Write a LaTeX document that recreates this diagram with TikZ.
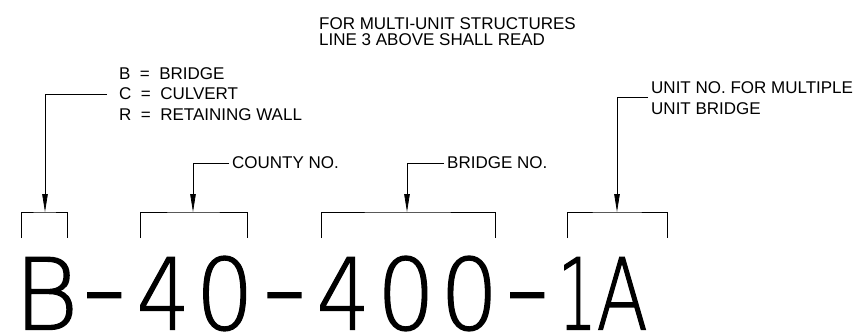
\documentclass[tikz,border=0pt]{standalone}
\usepackage{fontspec}
\usepackage{graphicx}
\setmainfont{Liberation Sans}
\newfontfamily\bnCodeFont[FakeBold=1.4]{DejaVu Sans ExtraLight}
\usetikzlibrary{arrows.meta}
% one character of the number: cell width, horizontal scale, character
\newcommand\bnCell[3]{\makebox[#1pt][c]{\scalebox{#2}[1]{#3}}}
\newcommand\bnDash{\raisebox{3pt}{\scalebox{1.25}[1.15]{-}}}
\tikzset{
  bnLine/.style={
    line width=0.8pt,
    draw=black
  },
  bnLeader/.style={
    bnLine,
    -{Triangle[length=18pt,width=5.5pt]},
    shorten <=3pt
  },
  bnNote/.style={
    inner sep=0pt,
    align=left,
    anchor=north west,
    font=\fontsize{17}{21}\selectfont
  },
  bnCode/.style={
    inner sep=0pt,
    anchor=base west,
    font=\bnCodeFont\fontsize{99}{99}\selectfont
  }
}

\begin{document}
\begin{tikzpicture}[x=1pt,y=-1pt]
\useasboundingbox (0,0) rectangle (868,335);

% Notes above the number.
\node[bnNote, font=\fontsize{17}{16.5}\selectfont] (multi) at (319,17)
  {FOR MULTI-UNIT STRUCTURES\\LINE 3 ABOVE SHALL READ};
\node[bnNote, font=\fontsize{17}{20.7}\selectfont] (kind) at (119,67)
  {B~~=~~BRIDGE\\C~~=~~CULVERT\\R~~=~~RETAINING WALL};
\node[bnNote, anchor=west] (county) at (232,163) {COUNTY NO.};
\node[bnNote, anchor=west] (bridge) at (447,163) {BRIDGE NO.};
\node[bnNote] (unit) at (651,81)
  {UNIT NO. FOR MULTIPLE\\UNIT BRIDGE};

% The number itself.
\node[bnCode] (code) at (16.5,329.5)
  {\bnCell{59}{1}{B}\bnCell{57.25}{1}{\bnDash}\bnCell{60.75}{.85}{4}%
   \bnCell{62.25}{.93}{0}\bnCell{57}{1}{\bnDash}\bnCell{60.75}{.85}{4}%
   \bnCell{64.75}{.93}{0}\bnCell{61.75}{.93}{0}\bnCell{54.25}{1}{\bnDash}%
   \bnCell{46}{.62}{1}\bnCell{43.5}{.76}{A}};

% Brackets over each part.
\coordinate (kindTip) at (45,212);
\coordinate (kindL) at (21,238);
\coordinate (kindR) at (67,238);
\draw[bnLine] (kindL) |- (kindTip) -| (kindR);

\coordinate (countyTip) at (193,212);
\coordinate (countyL) at (140,238);
\coordinate (countyR) at (247,238);
\draw[bnLine] (countyL) |- (countyTip) -| (countyR);

\coordinate (bridgeTip) at (407,212);
\coordinate (bridgeL) at (321,238);
\coordinate (bridgeR) at (495,238);
\draw[bnLine] (bridgeL) |- (bridgeTip) -| (bridgeR);

\coordinate (unitTip) at (617,212);
\coordinate (unitL) at (567,238);
\coordinate (unitR) at (667,238);
\draw[bnLine] (unitL) |- (unitTip) -| (unitR);

% Leaders.
\draw[bnLeader, shorten <=12pt] (kind.west) -| (kindTip);
\draw[bnLeader] (county.west) -| (countyTip);
\draw[bnLeader] (bridge.west) -| (bridgeTip);
\draw[bnLeader] (unit.west) -| (unitTip);

\end{tikzpicture}
\end{document}
